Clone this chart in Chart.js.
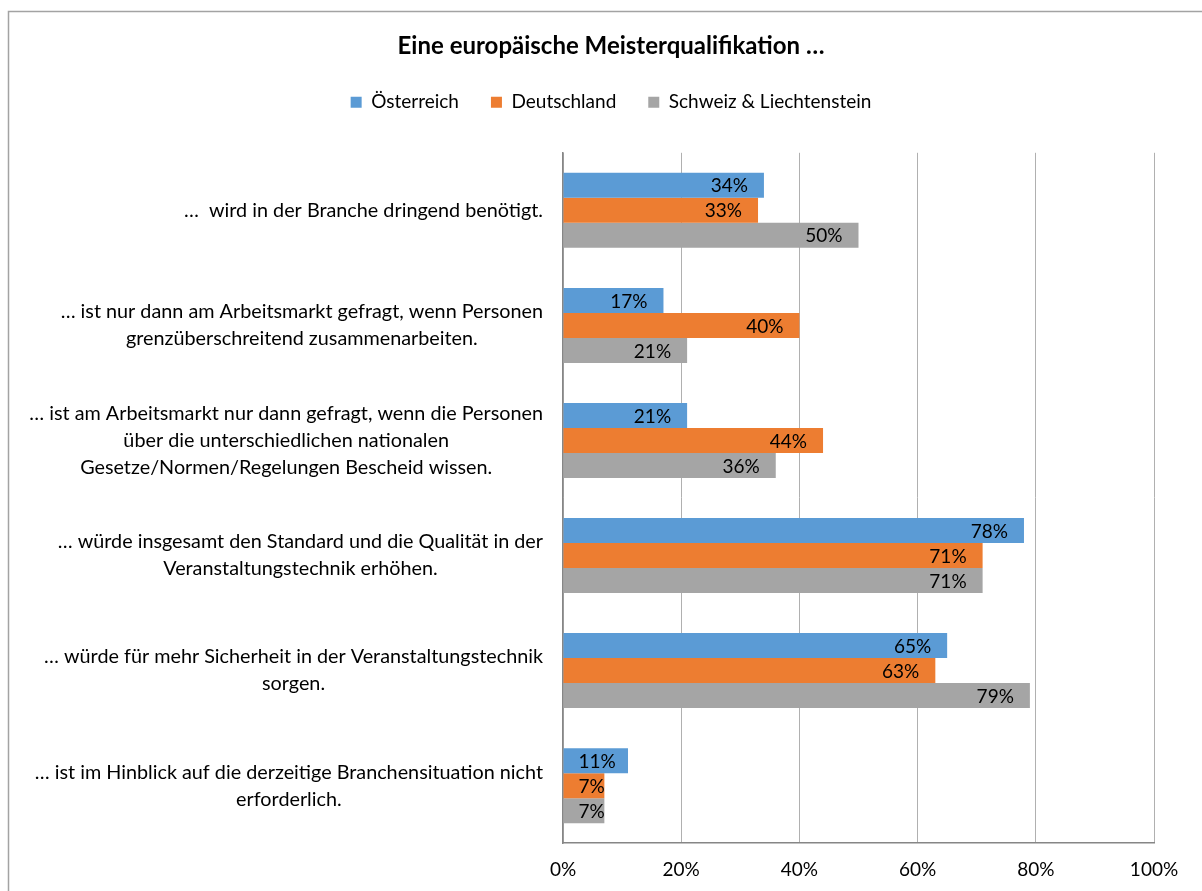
<!DOCTYPE html>
<html>
<head>
<meta charset="utf-8">
<script src="https://cdn.jsdelivr.net/npm/chart.js@4"></script>
<style>
  html, body { margin: 0; padding: 0; background: #fff; }
</style>
</head>
<body>
<canvas id="meister-chart" width="1202" height="891"></canvas>
<script>
// Survey answers, one entry per statement (wrapped lines)
const categories = [
    ['…  wird in der Branche dringend benötigt.'],
    ['… ist nur dann am Arbeitsmarkt gefragt, wenn Personen', 'grenzüberschreitend zusammenarbeiten.'],
    ['… ist am Arbeitsmarkt nur dann gefragt, wenn die Personen', 'über die unterschiedlichen nationalen', 'Gesetze/Normen/Regelungen Bescheid wissen.'],
    ['… würde insgesamt den Standard und die Qualität in der', 'Veranstaltungstechnik erhöhen.'],
    ['… würde für mehr Sicherheit in der Veranstaltungstechnik', 'sorgen.'],
    ['… ist im Hinblick auf die derzeitige Branchensituation nicht', 'erforderlich.']
];
const oesterreich = [34, 17, 21, 78, 65, 11];
const deutschland = [33, 40, 44, 71, 63, 7];
const schweizLiechtenstein = [50, 21, 36, 71, 79, 7];
const xTicks = [0, 20, 40, 60, 80, 100];

const FONT = 'Lato';

// grey frame around the whole chart
const frame = {
    id: 'frame',
    beforeDraw(chart) {
        const ctx = chart.ctx;
        ctx.save();
        ctx.strokeStyle = '#a3a3a3';
        ctx.lineWidth = 1.5;
        ctx.strokeRect(8.5, 11.5, 1220, 900);
        ctx.restore();
    }
};

// extra room between legend and plot
const legendGap = {
    id: 'legendGap',
    beforeInit(chart) {
        const fit = chart.legend.fit;
        chart.legend.fit = function () {
            fit.bind(chart.legend)();
            this.height += 31;
        };
    }
};

// centred, multi-line statement labels left of the axis
const categoryLabels = {
    id: 'categoryLabels',
    afterDraw(chart) {
        const ctx = chart.ctx;
        const yScale = chart.scales.y;
        ctx.save();
        ctx.font = '19.8px ' + FONT;
        ctx.fillStyle = '#000';
        ctx.textAlign = 'center';
        ctx.textBaseline = 'middle';
        categories.forEach((lines, i) => {
            const widest = Math.max(...lines.map(l => ctx.measureText(l).width));
            const cx = chart.chartArea.left - 20 - widest / 2;
            const cy = yScale.getPixelForValue(i);
            lines.forEach((line, k) => {
                ctx.fillText(line, cx, cy + (k - (lines.length - 1) / 2) * 27);
            });
        });
        ctx.restore();
    }
};

// percentage inside the end of each bar
const barValueLabels = {
    id: 'barValueLabels',
    afterDatasetsDraw(chart) {
        const ctx = chart.ctx;
        ctx.save();
        ctx.font = '19px ' + FONT;
        ctx.fillStyle = '#000';
        ctx.textAlign = 'right';
        ctx.textBaseline = 'middle';
        chart.data.datasets.forEach((ds, i) => {
            chart.getDatasetMeta(i).data.forEach((bar, j) => {
                const text = ds.data[j] + '%';
                const w = ctx.measureText(text).width;
                const x = Math.max(bar.x - 16, bar.base + 15 + w);
                ctx.fillText(text, x, bar.y + 1);
            });
        });
        ctx.restore();
    }
};

const ctx = document.getElementById('meister-chart').getContext('2d');

const meisterChart = new Chart(ctx, {
    type: 'bar',
    data: {
        labels: categories.map(c => c.join(' ')),
        datasets: [{
            label: 'Österreich',
            data: oesterreich,
            backgroundColor: '#5b9bd5'
        }, {
            label: 'Deutschland',
            data: deutschland,
            backgroundColor: '#ed7d31'
        }, {
            label: 'Schweiz & Liechtenstein',
            data: schweizLiechtenstein,
            backgroundColor: '#a5a5a5'
        }]
    },
    options: {
        indexAxis: 'y',
        responsive: false,
        animation: false,
        datasets: {
            bar: {
                categoryPercentage: 0.652,
                barPercentage: 1,
                borderWidth: 0
            }
        },
        layout: {
            padding: { left: 68, right: 48, top: 0, bottom: -5 }
        },
        plugins: {
            title: {
                display: true,
                text: 'Eine europäische Meisterqualifikation …',
                color: '#000',
                font: { family: FONT, size: 24, weight: 'bold' },
                padding: { top: 32, bottom: 0 }
            },
            legend: {
                position: 'top',
                labels: {
                    color: '#000',
                    font: { family: FONT, size: 19 },
                    boxWidth: 11,
                    boxHeight: 11,
                    padding: 32
                }
            },
            tooltip: { enabled: false }
        },
        scales: {
            x: {
                min: 0,
                max: 100,
                afterBuildTicks(scale) {
                    scale.ticks = xTicks.map(v => ({ value: v }));
                },
                ticks: {
                    color: '#000',
                    font: { family: FONT, size: 19 },
                    padding: 15,
                    callback: v => v + '%'
                },
                grid: {
                    color: '#b0b0b0',
                    drawTicks: false
                },
                border: { color: '#868686', width: 1.5 }
            },
            y: {
                ticks: { display: false },
                grid: { display: false, drawTicks: false },
                border: { color: '#868686', width: 1.5 },
                afterFit(scale) {
                    scale.width = 495;
                }
            }
        }
    },
    plugins: [frame, legendGap, categoryLabels, barValueLabels]
});
</script>
</body>
</html>
